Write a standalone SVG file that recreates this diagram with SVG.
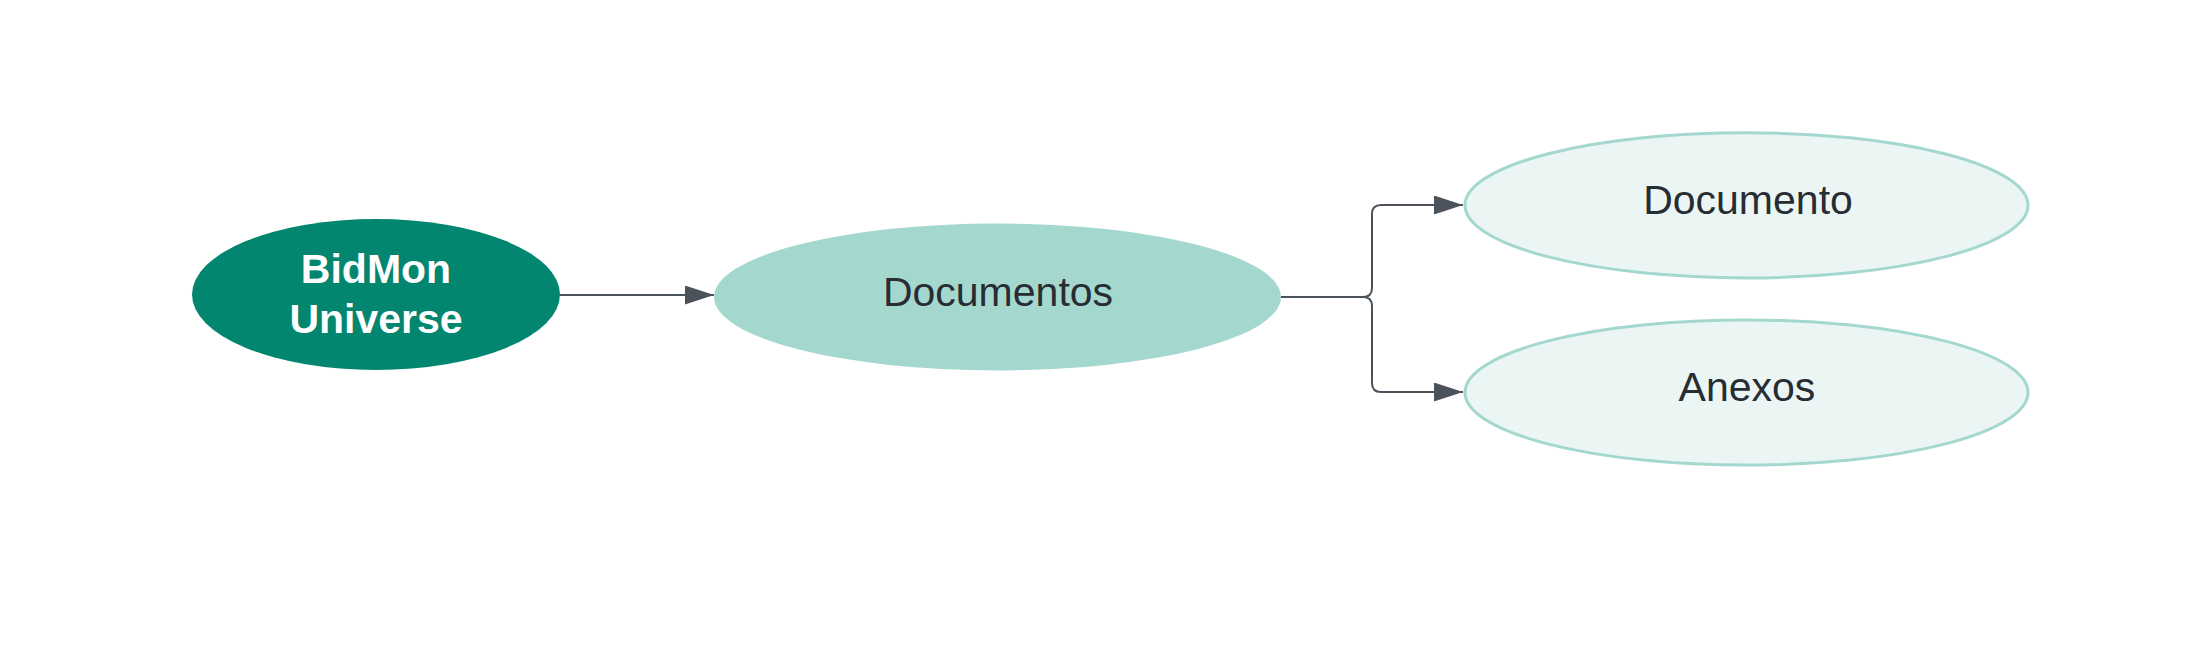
<svg xmlns="http://www.w3.org/2000/svg" width="2190" height="645" viewBox="0 0 2190 645">
<style>
.lbl{font-family:"Liberation Sans",Arial,sans-serif;font-size:41px;fill:#282c33;text-anchor:middle}
.root{font-family:"Liberation Sans",Arial,sans-serif;font-size:41px;font-weight:bold;fill:#ffffff;text-anchor:middle}
.conn{fill:none;stroke:#4c525c;stroke-width:2}
.leaf{fill:#ebf6f4;stroke:#a4d8cf;stroke-width:3}
</style>
<defs>
<marker id="arr" markerUnits="userSpaceOnUse" markerWidth="30" markerHeight="20" refX="29" refY="9.5" orient="auto">
<path d="M0,0 L29,9.5 L0,19 Z" fill="#4c525c"/>
</marker>
</defs>
<rect width="2190" height="645" fill="#ffffff"/>
<g id="connectors">
<path class="conn" d="M560,295 H714" marker-end="url(#arr)"/>
<path class="conn" d="M1281,297 H1363 Q1372,297 1372,288 V214 Q1372,205 1381,205 H1463" marker-end="url(#arr)"/>
<path class="conn" d="M1281,297 H1363 Q1372,297 1372,306 V383 Q1372,392 1381,392 H1463" marker-end="url(#arr)"/>
</g>
<g id="node-bidmon">
<ellipse cx="376" cy="294.5" rx="184" ry="75.5" fill="#02866f"/>
<text class="root" x="376" y="283">BidMon</text>
<text class="root" x="376" y="333">Universe</text>
</g>
<g id="node-documentos">
<ellipse cx="997.5" cy="297" rx="283.5" ry="73.5" fill="#a4d8cf"/>
<text class="lbl" x="998" y="306">Documentos</text>
</g>
<g id="node-documento">
<ellipse class="leaf" cx="1746.5" cy="205.3" rx="281.5" ry="72.6"/>
<text class="lbl" x="1748" y="214">Documento</text>
</g>
<g id="node-anexos">
<ellipse class="leaf" cx="1746.5" cy="392.5" rx="281.5" ry="72.6"/>
<text class="lbl" x="1747" y="400.5">Anexos</text>
</g>
</svg>
